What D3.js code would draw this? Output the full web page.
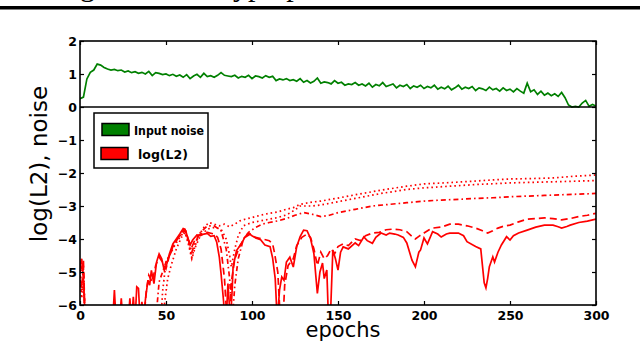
<!DOCTYPE html>
<html lang="en">
  <head>
    <title>Noise and log(L2) over epochs</title>
    <meta charset="utf-8">
    <script src="https://d3js.org/d3.v7.min.js"></script>
    <style>
      body {
        margin: 0;
        background: #fff;
      }
      svg {
        display: block;
      }
    </style>
  </head>
  <body>
    <div id="main"></div>
    <script>
      // input noise, one value every 2 epochs from 0 to 300
      var noiseStep = 2;
      var noiseValues = [
        0.25, 0.30, 0.85, 1.05, 1.12, 1.30, 1.27, 1.20, 1.15, 1.12,
        1.14, 1.10, 1.12, 1.06, 1.09, 1.04, 1.07, 1.02, 1.05, 1.00,
        1.08, 0.95, 1.04, 1.02, 0.98, 1.00, 0.95, 0.99, 0.93, 0.97,
        0.90, 0.98, 0.86, 0.94, 0.99, 0.90, 1.02, 0.92, 0.95, 0.90,
        0.96, 1.04, 0.96, 0.94, 0.92, 0.96, 0.88, 0.93, 0.90, 0.96,
        0.86, 0.94, 0.92, 0.88, 0.95, 0.90, 0.93, 0.80, 0.85, 0.82,
        0.86, 0.80, 0.83, 0.78, 0.86, 0.75, 0.80, 0.73, 0.78, 0.88,
        0.72, 0.76, 0.74, 0.70, 0.80, 0.72, 0.75, 0.66, 0.70, 0.68,
        0.74, 0.66, 0.70, 0.64, 0.72, 0.60, 0.68, 0.64, 0.74, 0.62,
        0.66, 0.70, 0.58, 0.66, 0.62, 0.68, 0.56, 0.64, 0.60, 0.66,
        0.56, 0.62, 0.58, 0.66, 0.54, 0.60, 0.55, 0.63, 0.52, 0.58,
        0.66, 0.54, 0.60, 0.56, 0.62, 0.50, 0.58, 0.55, 0.50, 0.60,
        0.52, 0.56, 0.48, 0.58, 0.50, 0.54, 0.46, 0.56, 0.48, 0.42,
        0.72, 0.46, 0.52, 0.38, 0.48, 0.36, 0.42, 0.34, 0.40, 0.32,
        0.44, 0.28, 0.06, 0.00, 0.02, 0.00, 0.12, 0.20, 0.02, 0.08,
        0.02
      ];

      // log(L2) runs as [epoch, value]; values under -6 fall off the plot
      var l2Solid = [[0,-4.8],[1,-4.6],[2,-5.2],[3,-6.5],[19,-6.5],[20,-5.55],[21,-6.5],[23,-6.5],[24,-5.8],[25,-6.5],
        [28,-6.5],[29,-5.8],[30,-6.5],[31,-5.75],[32,-6.5],[33,-5.45],[34,-5.5],[35,-6.5],[36,-5.9],[37,-6.5],
        [38,-5.85],[39.5,-5.25],[40.5,-5.4],[41.5,-4.95],[43,-5.35],[44.5,-4.7],[46,-4.45],[47.5,-4.6],[49,-4.95],[50.5,-4.75],
        [52,-4.45],[54,-4.15],[56,-4.0],[58,-3.85],[60,-3.68],[61,-3.7],[62.5,-3.93],[64,-4.18],[65.5,-4.03],[68,-3.88],
        [70,-3.9],[72,-3.85],[74,-3.83],[76,-3.92],[78,-3.9],[79.5,-4.1],[81,-4.55],[82,-5.05],[83.5,-5.9],[84,-6.5],
        [85,-6.5],[86,-5.35],[87.5,-6.5],[88.5,-5.5],[89,-4.85],[91,-4.35],[94,-4.13],[96,-3.93],[98,-3.83],[100,-3.9],
        [102.5,-3.98],[105,-4.02],[107.5,-4.18],[110.5,-4.23],[112,-4.58],[113.5,-5.2],[114.7,-6.5],[116,-5.55],[117.3,-5.15],[118.6,-5.25],
        [120,-4.7],[122,-4.55],[124,-4.85],[126,-4.23],[128,-3.93],[130,-3.73],[132,-3.75],[134,-3.98],[136,-4.45],[138,-5.65],
        [139.5,-5.0],[141,-4.73],[142,-5.2],[143.5,-4.94],[144.5,-6.5],[145.5,-6.5],[147,-4.33],[148.5,-4.6],[150,-4.94],[151.5,-4.4],
        [153,-4.24],[156,-4.3],[160,-4.12],[162,-4.2],[165,-3.94],[167,-4.05],[170,-4.13],[172,-3.95],[175,-3.82],[178,-3.88],
        [180,-3.82],[183,-3.85],[185,-3.88],[188,-3.95],[190,-4.12],[193,-4.64],[195,-4.84],[197,-4.4],[198,-4.33],[200,-3.97],
        [202,-4.15],[205,-3.78],[208,-3.85],[210,-3.94],[213,-3.85],[215,-3.82],[218,-3.82],[220,-3.82],[223,-3.9],[225,-4.08],
        [230,-4.23],[233,-4.3],[235,-5.33],[236,-5.48],[237,-5.2],[238,-4.84],[240,-4.54],[241,-4.7],[243,-4.4],[245,-4.18],
        [248,-3.93],[250,-4.03],[252,-3.9],[255,-3.82],[260,-3.73],[265,-3.64],[270,-3.58],[275,-3.58],[278,-3.63],[280,-3.67],
        [283,-3.62],[285,-3.58],[290,-3.5],[295,-3.46],[300,-3.4]];
      var l2Dashed = [[0,-4.7],[1,-5.0],[2,-4.65],[3,-6.5],[37,-6.5],[38.5,-5.6],[40,-5.1],[42,-5.3],[44,-4.8],[46,-4.55],
        [48,-4.7],[50,-4.9],[52,-4.5],[55,-4.1],[58,-3.9],[60,-3.75],[61.5,-3.75],[63,-4.05],[65,-4.25],[67,-4.0],
        [70,-3.85],[74,-3.8],[78,-3.85],[80,-3.95],[82,-4.3],[84,-5.2],[85.5,-6.5],[87,-6.5],[88,-5.3],[90,-4.6],
        [93,-4.2],[96,-3.95],[99,-3.85],[102,-3.95],[106,-4.0],[110,-4.05],[112,-4.15],[113,-4.4],[115,-5.0],[116.5,-6.5],
        [118,-6.5],[119,-5.4],[121,-4.8],[124,-4.6],[126,-4.2],[129,-3.95],[132,-3.85],[134,-3.95],[136,-4.3],[138,-4.8],
        [140,-4.4],[142,-4.6],[144,-4.5],[146,-4.3],[148,-4.45],[150,-4.23],[153,-4.15],[156,-4.2],[160,-4.0],[163,-4.05],
        [166,-3.9],[170,-3.82],[174,-3.8],[178,-3.72],[182,-3.7],[186,-3.72],[190,-3.78],[193,-3.92],[195,-4.0],[197,-3.92],
        [200,-3.82],[203,-3.72],[205,-3.67],[210,-3.64],[215,-3.55],[220,-3.55],[225,-3.6],[230,-3.67],[234,-3.75],[237,-3.82],
        [240,-3.75],[243,-3.67],[247,-3.6],[250,-3.58],[255,-3.48],[260,-3.4],[265,-3.38],[270,-3.36],[275,-3.38],[280,-3.42],
        [285,-3.38],[290,-3.32],[295,-3.28],[300,-3.22]];
      var l2DashDot = [[0,-4.9],[1,-5.5],[2,-4.8],[3,-6.5],[44,-6.5],[46,-5.3],[48,-5.0],[50,-4.7],[53,-4.4],[56,-4.05],
        [59,-3.85],[61,-3.75],[63,-4.0],[65,-4.4],[67,-4.1],[70,-3.8],[74,-3.6],[78,-3.6],[82,-3.75],[85,-4.3],
        [87,-5.2],[88.5,-6.5],[90,-5.4],[92,-4.6],[95,-4.0],[98,-3.8],[102,-3.65],[106,-3.55],[110,-3.5],[115,-3.45],
        [120,-3.38],[125,-3.28],[130,-3.2],[135,-3.25],[140,-3.32],[145,-3.28],[150,-3.2],[160,-3.1],[170,-3.0],[180,-2.95],
        [190,-2.9],[200,-2.85],[210,-2.82],[220,-2.8],[230,-2.77],[240,-2.75],[250,-2.72],[260,-2.7],[270,-2.68],[280,-2.66],
        [290,-2.64],[300,-2.62]];
      var l2DottedA = [[0,-5.0],[1,-5.8],[2,-5.1],[3,-6.5],[47,-6.5],[48,-5.6],[50,-4.7],[52,-4.5],[55,-4.2],[58,-3.95],
        [61,-3.75],[63,-4.1],[65,-4.55],[67,-4.2],[69,-3.9],[72,-3.65],[75,-3.5],[78,-3.55],[81,-3.6],[84,-3.55],
        [87,-3.63],[90,-3.55],[93,-3.45],[96,-3.4],[100,-3.35],[105,-3.28],[110,-3.22],[115,-3.18],[120,-3.1],[124,-3.05],
        [128,-2.95],[135,-2.88],[140,-2.85],[150,-2.76],[160,-2.66],[175,-2.52],[190,-2.4],[200,-2.33],[212,-2.3],[225,-2.26],
        [237,-2.22],[250,-2.18],[262,-2.17],[275,-2.15],[287,-2.1],[300,-2.06]];
      var l2DottedB = [[0,-5.1],[1,-5.6],[2,-5.3],[3,-6.5],[48,-6.5],[49.5,-5.8],[51,-5.2],[53,-4.8],[56,-4.3],[59,-3.95],
        [61,-3.8],[63,-4.15],[65,-4.6],[67,-4.25],[70,-3.9],[74,-3.7],[78,-3.65],[82,-3.7],[85,-4.0],[87,-4.5],
        [88,-4.85],[90,-4.3],[92,-3.9],[95,-3.6],[100,-3.5],[105,-3.45],[110,-3.4],[115,-3.35],[120,-3.27],[125,-3.12],
        [128,-3.0],[135,-3.0],[140,-2.97],[150,-2.87],[160,-2.77],[175,-2.62],[190,-2.5],[200,-2.45],[215,-2.4],[230,-2.35],
        [250,-2.3],[265,-2.28],[280,-2.26],[300,-2.23]];

      var xTicks = [0, 50, 100, 150, 200, 250, 300];
      var yTicks = [-6, -5, -4, -3, -2, -1, 0, 1, 2];
      var legendLabels = ["Input noise", "log(L2)"];

      var width = 640, height = 341;
      var svg = d3.select("#main").append("svg")
        .attr("width", width)
        .attr("height", height);

      // cut-off caption of the page above the figure
      svg.append("text").attr("x", 95).attr("y", -4).attr("text-anchor", "end")
        .style("font-family", "Liberation Serif").style("font-size", "30px").text("Learning");
      svg.append("text").attr("x", 218).attr("y", -4)
        .style("font-family", "Liberation Serif").style("font-size", "30px").text("hyperparameters");
      svg.append("rect").attr("x", 0).attr("y", 6).attr("width", width).attr("height", 3.5).attr("fill", "#000");

      var x = d3.scaleLinear().domain([0, 300]).range([80, 596]);
      var y = d3.scaleLinear().domain([-6, 2]).range([305, 41]);

      svg.append("clipPath").attr("id", "plot-clip").append("rect")
        .attr("x", x(0)).attr("y", y(2))
        .attr("width", x(300) - x(0)).attr("height", y(-6) - y(2));

      var line = d3.line()
        .x(function(d) { return x(d[0]); })
        .y(function(d) { return y(d[1]); });

      var plot = svg.append("g").attr("clip-path", "url(#plot-clip)");

      var redRuns = [
        {data: l2DottedA, dash: "1.6,3"},
        {data: l2DottedB, dash: "1.6,3"},
        {data: l2DashDot, dash: "5,3,1.6,3"},
        {data: l2Dashed, dash: "7,4"},
        {data: l2Solid, dash: null}
      ];
      plot.selectAll(".l2").data(redRuns).enter().append("path")
        .attr("class", "l2")
        .attr("d", function(d) { return line(d.data); })
        .attr("fill", "none")
        .attr("stroke", "#ff0000")
        .attr("stroke-width", 1.7)
        .attr("stroke-dasharray", function(d) { return d.dash; });//log(L2) runs

      plot.append("path")
        .datum(noiseValues.map(function(v, i) { return [i * noiseStep, v]; }))
        .attr("d", line)
        .attr("fill", "none")
        .attr("stroke", "#008000")
        .attr("stroke-width", 1.7);//input noise

      // axes, ticks point inward
      var fmt = d3.format("d");
      var axisLeftG = svg.append("g").attr("transform", "translate(" + x(0) + ",0)")
        .call(d3.axisLeft(y).tickValues(yTicks).tickSize(-4).tickPadding(3).tickFormat(fmt));
      var axisRightG = svg.append("g").attr("transform", "translate(" + x(300) + ",0)")
        .call(d3.axisRight(y).tickValues(yTicks).tickSize(-4).tickFormat(""));
      var axisBottomG = svg.append("g").attr("transform", "translate(0," + y(-6) + ")")
        .call(d3.axisBottom(x).tickValues(xTicks).tickSize(-4).tickPadding(6).tickFormat(fmt));
      var axisTopG = svg.append("g").attr("transform", "translate(0," + y(2) + ")")
        .call(d3.axisTop(x).tickValues(xTicks).tickSize(-4).tickFormat(""));
      [axisLeftG, axisRightG, axisBottomG, axisTopG].forEach(function(g) {
        g.select(".domain").remove();
        g.selectAll("line").attr("stroke", "#000").attr("stroke-width", 1.2);
        g.selectAll("text").attr("fill", "#000")
          .style("font-family", "DejaVu Sans").style("font-weight", "bold").style("font-size", "12.5px");
      });

      svg.append("rect")
        .attr("x", x(0)).attr("y", y(2))
        .attr("width", x(300) - x(0)).attr("height", y(-6) - y(2))
        .attr("fill", "none").attr("stroke", "#000").attr("stroke-width", 1.6);
      svg.append("line")
        .attr("x1", x(0)).attr("x2", x(300))
        .attr("y1", y(0)).attr("y2", y(0))
        .attr("stroke", "#000").attr("stroke-width", 1.6);//split between noise and log(L2)

      svg.append("text").attr("x", 343).attr("y", 337).attr("text-anchor", "middle")
        .style("font-family", "DejaVu Sans").style("font-size", "21px").text("epochs");
      svg.append("text").attr("transform", "translate(47,164) rotate(-90)").attr("text-anchor", "middle")
        .style("font-family", "DejaVu Sans").style("font-size", "23px").text("log(L2), noise");

      // legend
      var legend = svg.append("g");
      legend.append("rect").attr("x", 94).attr("y", 113).attr("width", 114).attr("height", 55)
        .attr("fill", "#fff").attr("stroke", "#000").attr("stroke-width", 1.5);
      var items = legend.selectAll(".item").data(legendLabels).enter().append("g")
        .attr("class", "item")
        .attr("transform", function(d, i) { return "translate(0," + (i * 24) + ")"; });
      items.append("rect")
        .attr("x", function(d, i) { return i ? 101 : 102; }).attr("y", 123.5)
        .attr("width", 27).attr("height", 12)
        .attr("fill", function(d, i) { return i ? "#ff0000" : "#008000"; })
        .attr("stroke", "#000").attr("stroke-width", 1.5);
      items.append("text")
        .attr("x", function(d, i) { return i ? 138 : 134; }).attr("y", 135)
        .attr("textLength", function(d, i) { return i ? 50 : 70; })
        .attr("lengthAdjust", "spacingAndGlyphs")
        .style("font-family", "DejaVu Sans").style("font-weight", "bold").style("font-size", "13px")
        .text(function(d) { return d; });
    </script>
  </body>
</html>
